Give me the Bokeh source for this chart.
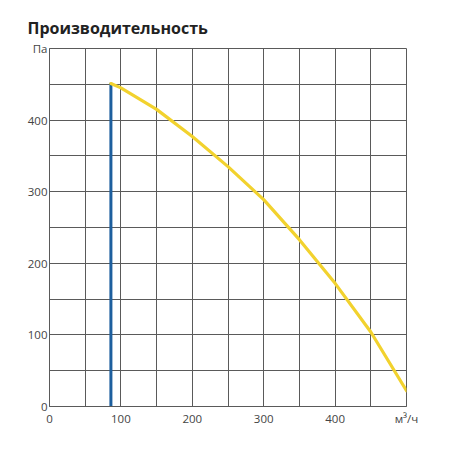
from bokeh.plotting import figure
from bokeh.models import Range1d, FixedTicker
from bokeh.embed import file_html
from bokeh.resources import INLINE

# Data
flow = [86, 100, 150, 200, 250, 300, 350, 400, 450, 500]
pressure = [451, 445, 415, 377, 335, 289, 233, 172, 104, 22]
limit_x = [86, 86]
limit_y = [0, 452]
x_ticks = [0, 100, 200, 300, 400, 500]
y_ticks = [0, 100, 200, 300, 400, 500]
grid_ticks = [0, 50, 100, 150, 200, 250, 300, 350, 400, 450, 500]
x_labels = {0: "0", 100: "100", 200: "200", 300: "300", 400: "400", 500: "м³/ч"}
y_labels = {0: "0", 100: "100", 200: "200", 300: "300", 400: "400", 500: "Па"}

FONT = "Open Sans"
GRID = "#5a5a5a"

p = figure(width=450, height=450, output_backend="svg", toolbar_location=None,
           x_range=Range1d(0, 500), y_range=Range1d(0, 500),
           min_border_left=49, min_border_right=44, min_border_top=48, min_border_bottom=44,
           title="Производительность")

p.title.text_font = FONT
p.title.text_font_size = "16px"
p.title.text_font_style = "bold"
p.title.text_color = "#222222"
p.title.align = "left"
p.title.offset = -22
p.title.standoff = 19

p.outline_line_color = GRID
p.outline_line_width = 1

for ax, ticks, labels in ((p.xaxis[0], x_ticks, x_labels), (p.yaxis[0], y_ticks, y_labels)):
    ax.ticker = FixedTicker(ticks=ticks)
    ax.major_label_overrides = labels
    ax.major_tick_line_color = None
    ax.minor_tick_line_color = None
    ax.major_tick_out = 0
    ax.major_tick_in = 0
    ax.minor_tick_out = 0
    ax.axis_line_color = GRID
    ax.major_label_text_font = FONT
    ax.major_label_text_font_size = "11.5px"
    ax.major_label_text_color = "#444444"

p.xaxis[0].major_label_standoff = 4
p.yaxis[0].major_label_standoff = 2

p.xgrid.ticker = FixedTicker(ticks=grid_ticks)
p.ygrid.ticker = FixedTicker(ticks=grid_ticks)
p.xgrid.grid_line_color = GRID
p.ygrid.grid_line_color = GRID
p.xgrid.grid_line_alpha = 1
p.ygrid.grid_line_alpha = 1

p.line(limit_x, limit_y, line_color="#1d5f9e", line_width=3)
p.line(flow, pressure, line_color="#f2d22e", line_width=3.2, line_join="round", line_cap="round")

open("out.html", "w").write(file_html(p, INLINE))
